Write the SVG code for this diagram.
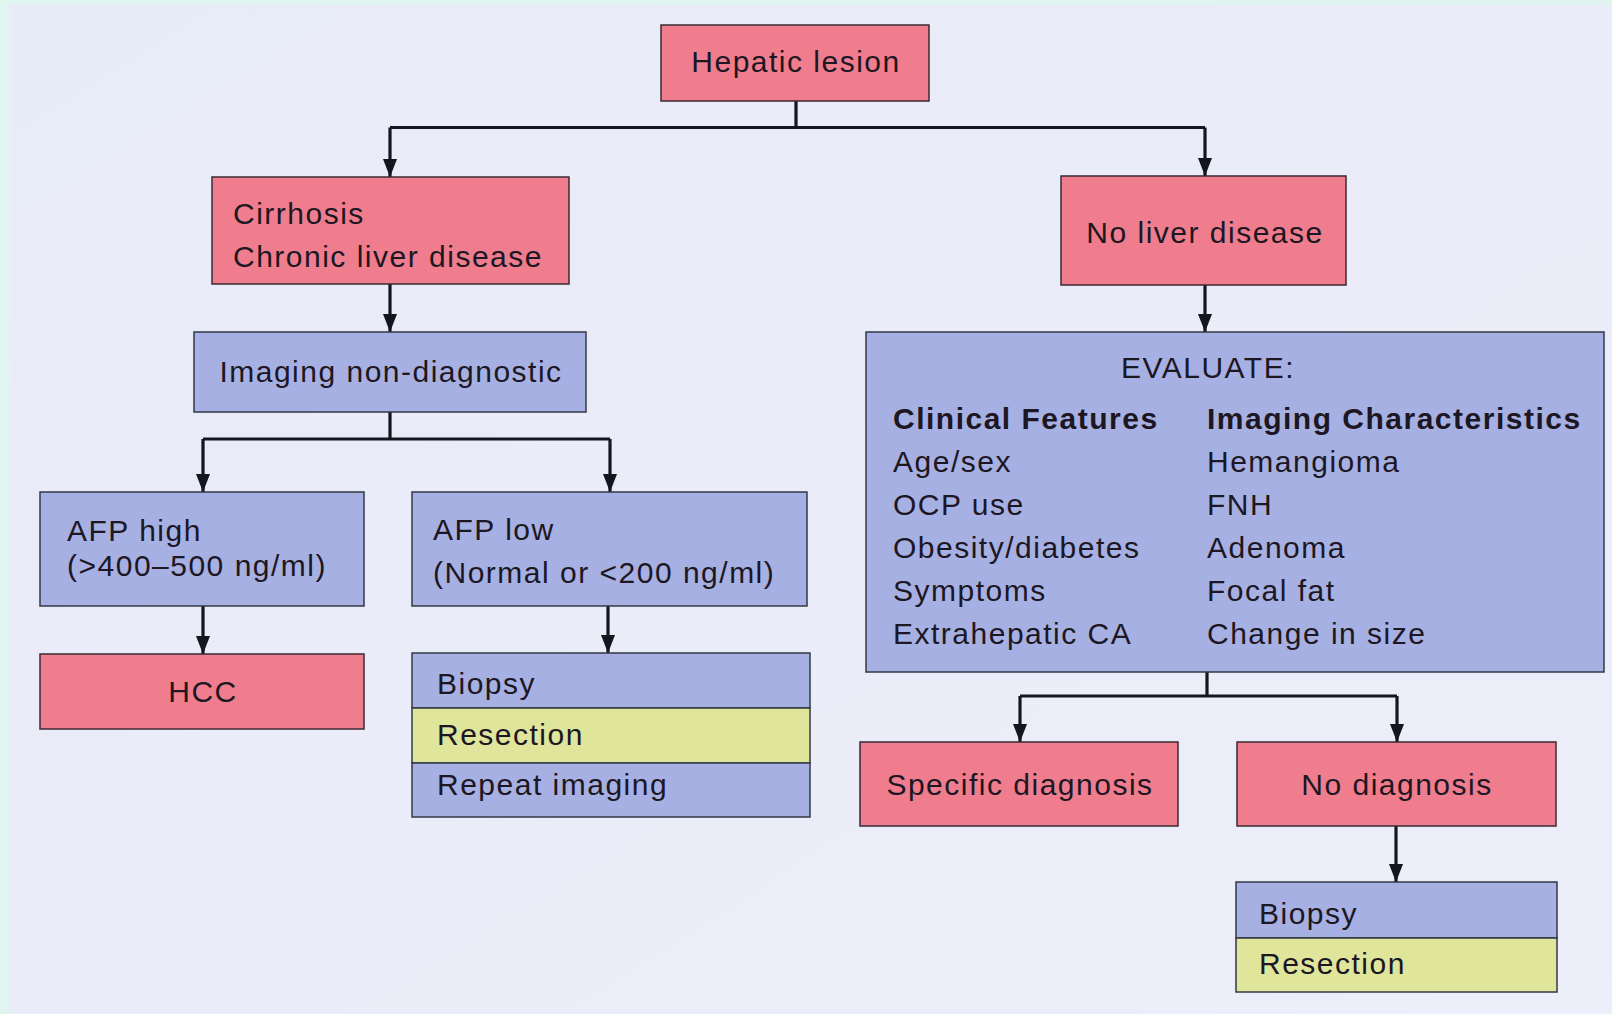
<svg xmlns="http://www.w3.org/2000/svg" width="1612" height="1014" viewBox="0 0 1612 1014">
<defs>
<marker id="arr" viewBox="0 0 18 14" refX="18" refY="7" markerWidth="18" markerHeight="14" markerUnits="userSpaceOnUse" orient="auto">
<path d="M0,0 L18,7 L0,14 z" fill="#15151f"/>
</marker>
<linearGradient id="bg" x1="0" y1="0" x2="1" y2="1">
<stop offset="0" stop-color="#e8ebf8"/>
<stop offset="1" stop-color="#eceef9"/>
</linearGradient>
</defs>
<style>
.pink{fill:#ef7d8e;stroke:#3a2a33;stroke-width:1.5}
.blue{fill:#a7b0e3;stroke:#333845;stroke-width:1.5}
.yel{fill:#dfe59b;stroke:#333845;stroke-width:1.5}
text{font-family:"Liberation Sans",Arial,sans-serif;font-size:30px;letter-spacing:1.5px;fill:#1c1722}
.c{text-anchor:middle}
.b{font-weight:bold}
.ln{fill:none;stroke:#15151f;stroke-width:3.2}
</style>
<rect x="0" y="0" width="1612" height="1014" fill="url(#bg)"/>
<rect x="0" y="0" width="1612" height="5" fill="#e0f5ef"/>
<rect x="0" y="0" width="10" height="1014" fill="#e0f5ef"/>

<g id="connectors">
<path class="ln" d="M796,101 V127.5 M390,127.5 H1205"/>
<path class="ln" d="M390,127.5 V177" marker-end="url(#arr)"/>
<path class="ln" d="M1205,127.5 V176" marker-end="url(#arr)"/>
<path class="ln" d="M390,284 V332" marker-end="url(#arr)"/>
<path class="ln" d="M390,412 V439 M203,439 H610"/>
<path class="ln" d="M203,439 V492" marker-end="url(#arr)"/>
<path class="ln" d="M610,439 V492" marker-end="url(#arr)"/>
<path class="ln" d="M203,606 V654" marker-end="url(#arr)"/>
<path class="ln" d="M608,606 V653" marker-end="url(#arr)"/>
<path class="ln" d="M1205,285 V332" marker-end="url(#arr)"/>
<path class="ln" d="M1207,672 V696 M1020,696 H1397"/>
<path class="ln" d="M1020,696 V742" marker-end="url(#arr)"/>
<path class="ln" d="M1397,696 V742" marker-end="url(#arr)"/>
<path class="ln" d="M1396,826 V882" marker-end="url(#arr)"/>
</g>

<g id="hepatic-lesion">
<rect class="pink" x="661" y="25" width="268" height="76"/>
<text class="c" x="796" y="72">Hepatic lesion</text>
</g>

<g id="cirrhosis">
<rect class="pink" x="212" y="177" width="357" height="107"/>
<text x="233" y="224">Cirrhosis</text>
<text x="233" y="267">Chronic liver disease</text>
</g>

<g id="no-liver-disease">
<rect class="pink" x="1061" y="176" width="285" height="109"/>
<text class="c" x="1205" y="243">No liver disease</text>
</g>

<g id="imaging-non-diagnostic">
<rect class="blue" x="194" y="332" width="392" height="80"/>
<text class="c" x="391" y="382">Imaging non-diagnostic</text>
</g>

<g id="afp-high">
<rect class="blue" x="40" y="492" width="324" height="114"/>
<text x="67" y="541">AFP high</text>
<text x="67" y="576">(&gt;400–500 ng/ml)</text>
</g>

<g id="hcc">
<rect class="pink" x="40" y="654" width="324" height="75"/>
<text class="c" x="203" y="702">HCC</text>
</g>

<g id="afp-low">
<rect class="blue" x="412" y="492" width="395" height="114"/>
<text x="433" y="540">AFP low</text>
<text x="433" y="583">(Normal or &lt;200 ng/ml)</text>
</g>

<g id="options-left">
<rect class="blue" x="412" y="653" width="398" height="55"/>
<rect class="yel" x="412" y="708" width="398" height="55"/>
<rect class="blue" x="412" y="763" width="398" height="54"/>
<text x="437" y="694">Biopsy</text>
<text x="437" y="745">Resection</text>
<text x="437" y="795">Repeat imaging</text>
</g>

<g id="evaluate">
<rect class="blue" x="866" y="332" width="738" height="340"/>
<text class="c" x="1208" y="378">EVALUATE:</text>
<text class="b" x="893" y="429">Clinical Features</text>
<text x="893" y="472">Age/sex</text>
<text x="893" y="515">OCP use</text>
<text x="893" y="558">Obesity/diabetes</text>
<text x="893" y="601">Symptoms</text>
<text x="893" y="644">Extrahepatic CA</text>
<text class="b" x="1207" y="429">Imaging Characteristics</text>
<text x="1207" y="472">Hemangioma</text>
<text x="1207" y="515">FNH</text>
<text x="1207" y="558">Adenoma</text>
<text x="1207" y="601">Focal fat</text>
<text x="1207" y="644">Change in size</text>
</g>

<g id="specific-diagnosis">
<rect class="pink" x="860" y="742" width="318" height="84"/>
<text class="c" x="1020" y="795">Specific diagnosis</text>
</g>

<g id="no-diagnosis">
<rect class="pink" x="1237" y="742" width="319" height="84"/>
<text class="c" x="1397" y="795">No diagnosis</text>
</g>

<g id="options-right">
<rect class="blue" x="1236" y="882" width="321" height="56"/>
<rect class="yel" x="1236" y="938" width="321" height="54"/>
<text x="1259" y="924">Biopsy</text>
<text x="1259" y="974">Resection</text>
</g>
</svg>
